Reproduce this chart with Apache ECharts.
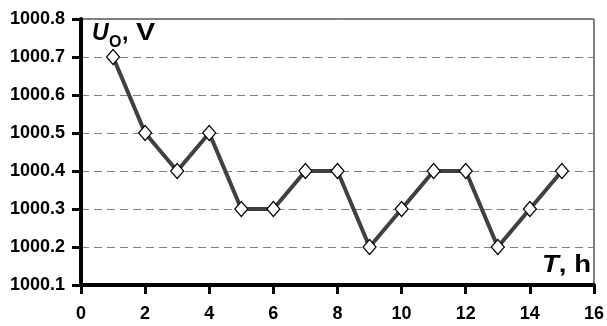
<!DOCTYPE html>
<html><head><meta charset="utf-8">
<script src="https://cdn.jsdelivr.net/npm/echarts@6/dist/echarts.min.js"></script>
<style>html,body{margin:0;padding:0;background:#fff}#c{width:607px;height:326px}</style>
</head><body><div id="c"></div>
<script>
const hours = [1,2,3,4,5,6,7,8,9,10,11,12,13,14,15];
const voltage = [1000.7,1000.5,1000.4,1000.5,1000.3,1000.3,1000.4,1000.4,1000.2,1000.3,1000.4,1000.4,1000.2,1000.3,1000.4];
const xTicks = [0,2,4,6,8,10,12,14,16];
const yTicks = [1000.1,1000.2,1000.3,1000.4,1000.5,1000.6,1000.7,1000.8];

const chart = echarts.init(document.getElementById('c'), null, {renderer:'canvas'});
const FF = 'Liberation Sans, Arial, sans-serif';
const font = {fontFamily:FF, fontWeight:'bold', fontSize:18, color:'#000'};
function txt(t, x, y, size, italic, sx){
  return {type:'text', x:x, y:y, scaleX:sx||1, z:100, style:{x:0, y:0, text:t, align:'left', verticalAlign:'top',
    fontFamily:FF, fontWeight:'bold', fontStyle:italic?'italic':'normal', fontSize:size, fill:'#000'}};
}
chart.setOption({
  animation:false,
  grid:{left:81, right:11, top:19, bottom:41, show:true, borderColor:'#000', borderWidth:1},
  xAxis:{type:'value', min:0, max:16, interval:2,
    axisLine:{show:true, onZero:false, lineStyle:{color:'#000', width:4}},
    axisTick:{show:true, length:9, lineStyle:{color:'#000', width:3}},
    axisLabel:Object.assign({margin:20, formatter:v=>xTicks.includes(v)?String(v):''}, font),
    splitLine:{show:false}},
  yAxis:{type:'value', min:1000.1, max:1000.8, interval:0.1,
    axisLine:{show:true, onZero:false, lineStyle:{color:'#000', width:4}},
    axisTick:{show:true, length:9, lineStyle:{color:'#000', width:3}},
    axisLabel:Object.assign({margin:16, formatter:v=>{const t=yTicks.find(y=>Math.abs(y-v)<1e-6);return t!==undefined?t.toFixed(1):'';}}, font),
    splitLine:{show:true, lineStyle:{color:'#808080', width:1, type:[8,5]}}},
  graphic:[
    txt('U', 92, 22, 23, true),
    txt('O', 109, 35, 16, false),
    txt(',', 122, 22, 23, false),
    txt('V', 136, 22, 23, false, 1.25),
    {type:'text', x:591, y:253, scaleX:1.15, z:100, style:{x:0, y:0, align:'right', verticalAlign:'top', rich:{
        u:{fontFamily:FF, fontStyle:'italic', fontWeight:'bold', fontSize:24, fill:'#000'},
        n:{fontFamily:FF, fontWeight:'bold', fontSize:24, fill:'#000'}},
      text:'{u|T}{n|, h}'}}
  ],
  series:[{type:'line', data:hours.map((h,i)=>[h,voltage[i]]),
    lineStyle:{color:'#404040', width:4},
    symbol:'diamond', symbolSize:[13,15],
    itemStyle:{color:'#fff', borderColor:'#000', borderWidth:1.2}}]
});
</script></body></html>
